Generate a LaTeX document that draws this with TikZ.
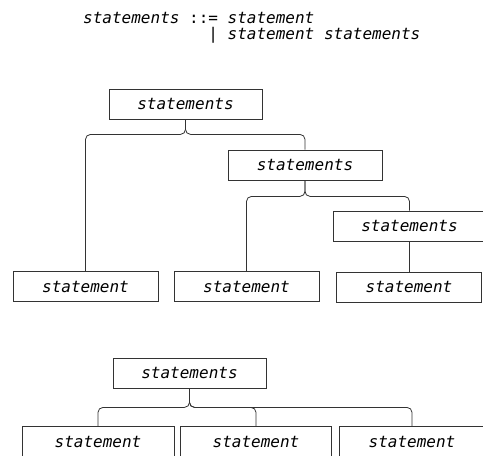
\documentclass[tikz,border=0pt]{standalone}
\usepackage{fontspec}
\newfontfamily\codefont{DejaVu Sans Mono}
\usetikzlibrary{positioning}

\begin{document}
\begin{tikzpicture}[x=1pt,y=-1pt,
  nt/.style={draw=black!80,line width=0.8pt,minimum height=30pt,inner sep=0pt,font=\codefont\itshape\fontsize{16}{16}\selectfont},
  brace/.style={draw=black!80,line width=0.8pt,rounded corners=5pt},
  gram/.style={align=left,inner sep=0pt,font=\codefont\itshape\fontsize{16}{15.5}\selectfont}]
\useasboundingbox (0,0) rectangle (483,456);
\node[gram,anchor=north west] (rule) at (83,12.5) {statements \textup{::=} statement\\
  \phantom{statements ::}\textup{|} statement statements};
% first tree
\node[nt,minimum width=153pt] (top) at (185.5,104) {statements};
\node[nt,minimum width=154pt] (mid) at (305,165) {statements};
\node[nt,minimum width=153pt] (low) at (409.5,226) {statements};
\node[nt,minimum width=145pt] (sa) at (85.5,286.5) {statement};
\node[nt,minimum width=145pt] (sb) at (246.5,286.5) {statement};
\node[nt,minimum width=145pt] (sc) at (409,287) {statement};
\draw[brace] (top.south) -- ++(0,15) -| (sa.north);
\draw[brace] (top.south) -- ++(0,15) -| (mid.north);
\draw[brace] (mid.south) -- ++(0,16) -| (sb.north);
\draw[brace] (mid.south) -- ++(0,16) -| (low.north);
\draw[brace] (low.south) -- (low.south |- sc.north);
% second tree
\node[nt,minimum width=153pt] (root) at (189.5,373) {statements};
\foreach \n/\x/\w in {ta/98/152,tb/256/151,tc/412/146}{
  \node[nt,minimum width=\w pt] (\n) at (\x,441.5) {statement};
  \draw[brace] (root.south) -- ++(0,19) -| (\n.north);
}
\end{tikzpicture}
\end{document}
